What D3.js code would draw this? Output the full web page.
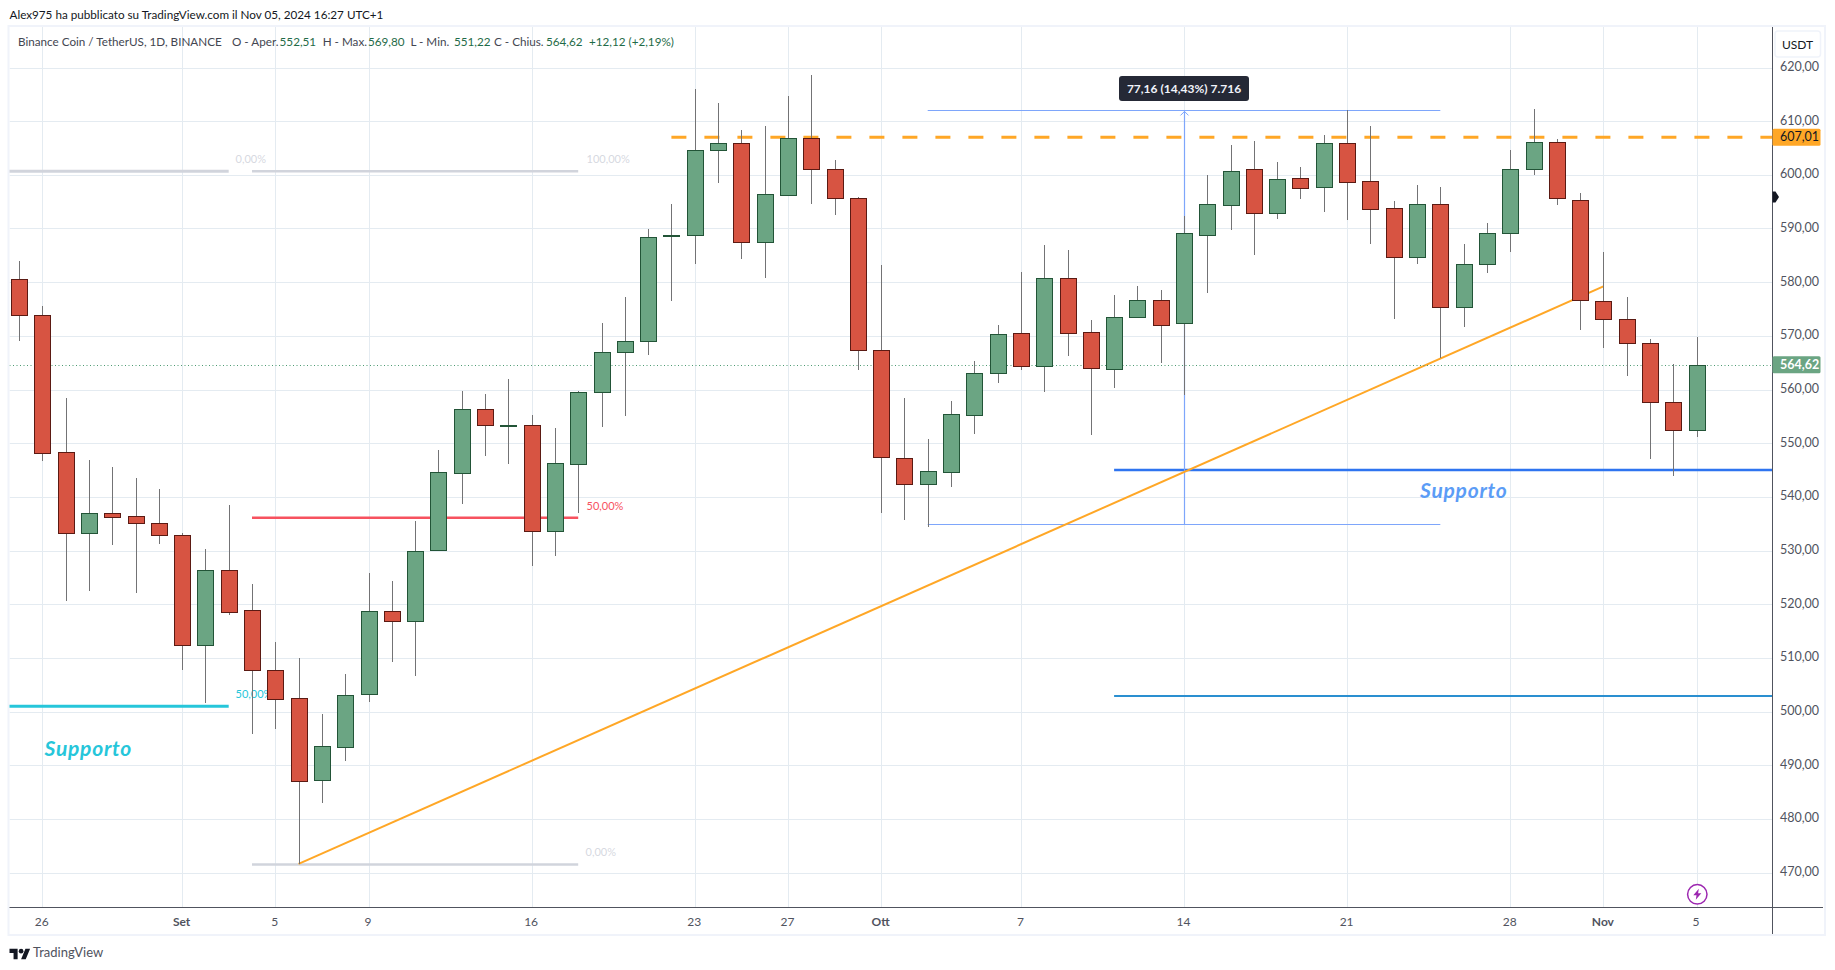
<!DOCTYPE html>
<html><head><meta charset="utf-8">
<style>html,body{margin:0;padding:0;background:#fff}svg{display:block}text{font-family:"Lato","Open Sans",sans-serif}</style>
<script src="https://cdn.jsdelivr.net/npm/d3@7"></script></head><body>
<svg id="c" width="1835" height="970"></svg>
<script>
// Daily candles; index 0 is 25 Aug 2024
const opens  = [580.5,573.8,548.3,533.2,536.9,536.4,535.2,532.8,512.3,526.3,518.9,507.7,502.5,487.3,493.4,503.2,518.7,516.9,530.1,544.5,556.3,553.3,553.3,533.7,546.2,559.5,566.9,569.1,588.6,588.7,604.6,605.9,587.4,596.3,606.8,601.0,595.6,567.3,547.2,542.4,544.7,555.3,563.0,570.5,564.3,580.7,570.8,563.8,573.6,576.6,572.3,588.8,594.4,601.0,592.8,599.4,597.8,605.9,598.8,593.8,584.7,594.5,575.3,583.3,589.2,601.0,606.2,595.4,576.4,573.1,568.6,557.6,552.51];
const highs  = [583.9,575.6,558.4,546.9,545.6,543.5,541.5,533.3,530.3,538.5,523.8,513.0,510.0,499.5,507.0,525.8,524.3,535.5,548.7,559.7,559.2,562.0,555.3,552.8,559.7,572.3,577.2,590.0,594.6,616.0,613.4,608.4,609.1,614.7,618.6,602.8,595.9,583.2,558.4,550.8,557.9,565.3,572.0,581.9,586.9,586.0,573.0,577.6,579.3,578.5,592.4,600.0,605.6,606.3,602.4,601.5,607.4,612.0,609.1,595.1,598.1,597.7,587.1,591.0,604.6,612.3,606.7,596.6,585.6,577.2,569.4,564.8,569.80];
const lows   = [569.1,546.7,520.6,522.5,531.1,522.1,531.3,507.7,501.6,518.0,495.9,496.8,471.5,483.0,490.8,501.8,509.3,506.7,530.0,538.7,547.6,546.1,527.2,529.0,536.9,553.1,555.1,566.5,576.5,583.4,598.5,584.4,580.8,596.1,594.6,592.6,563.7,536.9,535.6,534.4,541.9,551.8,561.3,563.7,559.6,566.3,551.6,560.2,573.5,565.0,559.0,577.9,589.7,585.1,591.8,595.5,593.1,591.6,587.2,573.2,583.4,565.8,571.7,581.8,585.6,600.0,594.3,571.1,567.8,562.6,547.1,543.8,551.22];
const closes = [573.8,548.1,533.2,536.9,536.3,535.2,532.8,512.3,526.3,518.6,507.7,502.4,487.1,493.5,503.0,518.7,516.9,530.0,544.6,556.3,553.3,553.4,533.7,546.3,559.5,566.9,569.0,588.5,588.7,604.6,605.9,587.4,596.4,606.8,601.0,595.6,567.3,547.4,542.4,544.8,555.4,563.0,570.3,564.3,580.7,570.6,564.0,573.6,576.6,572.1,589.1,594.5,600.8,592.8,599.2,597.6,605.9,598.7,593.7,584.7,594.5,575.3,583.3,589.1,601.0,606.2,595.6,576.6,573.1,568.6,557.6,552.4,564.62];

const priceTicks = [470,480,490,500,510,520,530,540,550,560,570,580,590,600,610,620];
const timeTickIdx = [1,7,11,15,22,29,33,37,43,50,57,64,68,72];
const timeTickLabels = ["26","Set","5","9","16","23","27","Ott","7","14","21","28","Nov","5"];
const monthTicks = ["Set","Ott","Nov"];

const lastClose = 564.62, resistance = 607.01;
const trend = [[12,471.6],[68,579.2]];
const measure = {from:[39,534.9], to:[61,612.0], mid:50};
const fibs = [
  {a:-2,b:9, p:600.66, c:"#d1d4dc", w:3, label:"0,00%", lx:235.5},
  {a:-2,b:9, p:501.0, c:"#26c6da", w:3, label:"50,00%", lx:235.5},
  {a:10,b:24, p:600.66, c:"#d1d4dc", w:2.5, label:"100,00%", lx:586.5},
  {a:10,b:24, p:536.1, c:"#f7525f", w:2.5, label:"50,00%", lx:586.5},
  {a:10,b:24, p:471.5, c:"#d1d4dc", w:2.5, label:"0,00%", lx:585.5}
];
const supports = [{a:47,p:545.0,c:"#2e74f0",w:2.5},{a:47,p:502.9,c:"#2a8fd0",w:2}];

const F = {L:9.5,T:27,R:1772,B:907,Bo:934,Rr:1824};
const x = d3.scaleLinear().domain([0,72]).range([19,1696.6]);
const y = d3.scaleLinear().domain([470,620]).range([872.5,67.5]);
const fmt = v => d3.format(".2f")(v).replace(".",",");
const svg = d3.select("#c");
const n = opens.length;
const data = d3.range(n).map(i=>({i,o:opens[i],h:highs[i],l:lows[i],c:closes[i]}));

svg.append("defs").append("clipPath").attr("id","pane").append("rect")
  .attr("x",F.L).attr("y",F.T).attr("width",F.R-F.L).attr("height",F.B-F.T);

// frame
svg.append("rect").attr("x",F.L-1).attr("y",F.T-1).attr("width",F.Rr-F.L+2).attr("height",F.Bo-F.T+2)
  .attr("fill","none").attr("stroke","#f0f3fa").attr("stroke-width",2);

const pane = svg.append("g").attr("clip-path","url(#pane)");
// grid
pane.append("g").selectAll("line").data(priceTicks).join("line")
  .attr("x1",F.L).attr("x2",F.R).attr("y1",d=>Math.round(y(d))+.5).attr("y2",d=>Math.round(y(d))+.5)
  .attr("stroke","#e4ebf1");
pane.append("g").selectAll("line").data(timeTickIdx).join("line")
  .attr("y1",F.T).attr("y2",F.B).attr("x1",d=>Math.round(x(d))+.5).attr("x2",d=>Math.round(x(d))+.5)
  .attr("stroke","#e4ebf1");

// fib levels
pane.append("g").selectAll("line").data(fibs).join("line")
  .attr("x1",d=>x(d.a)).attr("x2",d=>x(d.b)).attr("y1",d=>y(d.p)).attr("y2",d=>y(d.p))
  .attr("stroke",d=>d.c).attr("stroke-width",d=>d.w);
pane.append("g").selectAll("text").data(fibs).join("text")
  .attr("x",d=>d.lx).attr("y",d=>y(d.p)-8).attr("font-size",11)
  .attr("fill",d=>d.c).attr("fill-opacity",d=>d.c==="#d1d4dc"?.9:1).text(d=>d.label);

// supports + labels
pane.append("g").selectAll("line").data(supports).join("line")
  .attr("x1",d=>x(d.a)).attr("x2",F.R).attr("y1",d=>y(d.p)).attr("y2",d=>y(d.p))
  .attr("stroke",d=>d.c).attr("stroke-width",d=>d.w);
pane.append("text").attr("x",44.5).attr("y",755.5).attr("font-size",21).attr("letter-spacing",.75).attr("font-style","italic").attr("font-weight",700).attr("fill","#26c6da").text("Supporto");
pane.append("text").attr("x",1420).attr("y",497.5).attr("font-size",21).attr("letter-spacing",.75).attr("font-style","italic").attr("font-weight",700).attr("fill","#5b9cf6").text("Supporto");

// measure tool
const mc="#7ea6fb";
const mg=pane.append("g").attr("stroke",mc).attr("fill","none");
[measure.from[1],measure.to[1]].forEach(p=>mg.append("line").attr("x1",x(measure.from[0])).attr("x2",x(measure.to[0])).attr("y1",Math.round(y(p))+.5).attr("y2",Math.round(y(p))+.5).attr("stroke-width",1.2));
const mx=Math.round(x(measure.mid))+.5;
mg.append("line").attr("x1",mx).attr("x2",mx).attr("y1",y(measure.from[1])).attr("y2",y(measure.to[1])).attr("stroke-width",1.2);
mg.append("path").attr("d",d3.line()([[mx-4,y(measure.to[1])+5],[mx,y(measure.to[1])+1],[mx+4,y(measure.to[1])+5]]));

// trend & resistance
pane.append("line").attr("x1",x(trend[0][0])).attr("y1",y(trend[0][1])).attr("x2",x(trend[1][0])).attr("y2",y(trend[1][1])).attr("stroke","#ffa726").attr("stroke-width",2);
pane.append("line").attr("x1",x(28)).attr("x2",F.R).attr("y1",y(resistance)).attr("y2",y(resistance))
  .attr("stroke","#ffa726").attr("stroke-width",3).attr("stroke-dasharray","15 18");
// last price line
pane.append("line").attr("x1",F.L).attr("x2",F.R).attr("y1",Math.round(y(lastClose))+.5).attr("y2",Math.round(y(lastClose))+.5)
  .attr("stroke","#4d9a72").attr("stroke-dasharray","1 2.5");

// candles
const col = d=>d.c>=d.o;
const cg = pane.append("g").selectAll("g").data(data).join("g");
cg.append("line").attr("x1",d=>Math.round(x(d.i))+.5).attr("x2",d=>Math.round(x(d.i))+.5)
  .attr("y1",d=>y(d.h)).attr("y2",d=>y(d.l)).attr("stroke","#737375").attr("shape-rendering","crispEdges");
cg.append("rect").attr("x",d=>Math.round(x(d.i))-7.5).attr("width",16)
  .attr("y",d=>Math.round(y(Math.max(d.o,d.c)))+.5)
  .attr("height",d=>Math.max(1,Math.round(y(Math.min(d.o,d.c)))-Math.round(y(Math.max(d.o,d.c)))))
  .attr("fill",d=>col(d)?"#6ba583":"#d75442").attr("stroke",d=>col(d)?"#225437":"#5b1a13").attr("shape-rendering","crispEdges");

// measure label
svg.append("rect").attr("x",1119).attr("y",76).attr("width",130).attr("height",25).attr("rx",3).attr("fill","#252936");
svg.append("text").attr("x",1184).attr("y",92.5).attr("text-anchor","middle").attr("font-size",12).attr("font-weight",700).attr("fill","#f0f3fa").text("77,16 (14,43%) 7.716");

// time axis
const tAxis = d3.axisBottom(x).tickValues(timeTickIdx).tickSize(0).tickPadding(0).tickFormat((d,i)=>timeTickLabels[i]);
const tg = svg.append("g").attr("transform",`translate(-1,${F.B+10})`).call(tAxis);
tg.select(".domain").remove();
tg.selectAll("text").attr("font-size",12).attr("font-family","Lato,sans-serif").attr("fill","#50535e");
tg.selectAll("text").filter(function(){return monthTicks.includes(this.textContent)}).attr("font-weight",700);
svg.append("line").attr("x1",F.L).attr("x2",F.Rr-1).attr("y1",F.B+.5).attr("y2",F.B+.5).attr("stroke","#50535e");
svg.append("line").attr("x1",F.R+.5).attr("x2",F.R+.5).attr("y1",F.T).attr("y2",F.Bo).attr("stroke","#50535e");

// price axis
const pAxis = d3.axisRight(y).tickValues(priceTicks).tickSize(0).tickPadding(8).tickFormat(fmt);
const pg = svg.append("g").attr("transform",`translate(${F.R},-1)`).call(pAxis);
pg.select(".domain").remove();
pg.selectAll("text").attr("font-size",12.5).attr("font-family","Lato,sans-serif").attr("fill","#50535e");

// price tags
[[resistance,"#ffa726","#131722"],[lastClose,"#6ba583","#fff"]].forEach(([p,bg,fg])=>{
  svg.append("rect").attr("x",F.R+.5).attr("y",y(p)-8.5).attr("width",48).attr("height",17).attr("rx",1.5).attr("fill",bg);
  svg.append("text").attr("x",F.R+8).attr("y",y(p)+4.2).attr("font-size",12.5).attr("fill",fg).attr("font-weight",fg==="#fff"?700:400).text(fmt(p));
});
// USDT
svg.append("rect").attr("x",1775).attr("y",31).attr("width",45.5).attr("height",26).attr("rx",3).attr("fill","#fff").attr("stroke","#f0f3fa").attr("stroke-width",1.5);
svg.append("text").attr("x",1797.5).attr("y",48.5).attr("text-anchor","middle").attr("font-size",12).attr("fill","#131722").text("USDT");
// marker
svg.append("path").attr("d","M1772.5 191.5h3l3.5 5.5l-3.5 5.5h-3z").attr("fill","#131722");

// lightning icon
const ig=svg.append("g").attr("transform","translate(1697.3,894.3)");
ig.append("circle").attr("r",9.7).attr("fill","#fff").attr("stroke","#9c27b0").attr("stroke-width",1.5);
ig.append("path").attr("d","M1.5-5.5L-4 1h3.2L-1.5 5.5L4-1H.8z").attr("fill","#9c27b0");

// header
svg.append("text").attr("x",9.5).attr("y",19).attr("font-size",11.7).attr("fill","#131722").text("Alex975 ha pubblicato su TradingView.com il Nov 05, 2024 16:27 UTC+1");
const legend=[[18,"Binance Coin / TetherUS, 1D, BINANCE","#434651"],[232,"O - Aper.","#434651"],[279.6,"552,51","#1f6b48"],[322.7,"H - Max.","#434651"],[368,"569,80","#1f6b48"],[410.4,"L - Min.","#434651"],[454,"551,22","#1f6b48"],[494,"C - Chius.","#434651"],[546,"564,62","#1f6b48"],[589,"+12,12 (+2,19%)","#1f6b48"]];
svg.append("g").selectAll("text").data(legend).join("text").attr("x",d=>d[0]).attr("y",46).attr("font-size",11.7).attr("fill",d=>d[2]).text(d=>d[1]);

// footer logo
const lg=svg.append("g").attr("transform","translate(9.5,946.5) scale(.58)").attr("fill","#131722");
lg.append("path").attr("d","M14 22H7V11H0V4h14v18zM28 22h-8l7.5-18h8L28 22z");
lg.append("circle").attr("cx",20).attr("cy",8).attr("r",4);
svg.append("text").attr("x",33).attr("y",957).attr("font-size",13).attr("fill","#50535e").text("TradingView");
</script>
</body></html>
